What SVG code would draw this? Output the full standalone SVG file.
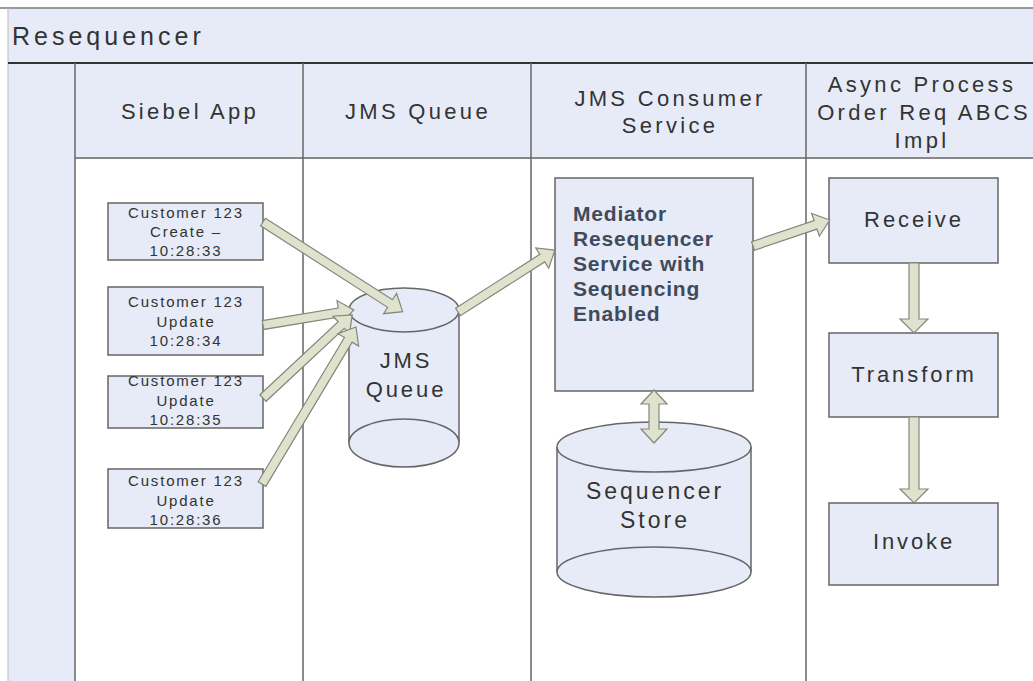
<svg xmlns="http://www.w3.org/2000/svg" width="1033" height="681" viewBox="0 0 1033 681">
<style>
.t{font-family:"Liberation Sans",Arial,sans-serif;fill:#333;text-anchor:middle}
.hd{font-size:22px;letter-spacing:3.3px}
.cu{font-size:15px;letter-spacing:1.8px}
.bx{font-size:22px;letter-spacing:2.9px}
.md{font-family:"Liberation Sans",Arial,sans-serif;font-weight:bold;font-size:21px;letter-spacing:0.8px;fill:#3f4a5c}
.shape{fill:#e6ebf7;stroke:#666;stroke-width:1.5}
.arr{fill:#dfe2cc;stroke:#85877c;stroke-width:1.2;stroke-linejoin:miter}
.lane{stroke:#666;stroke-width:1.5}
</style>
<rect x="0" y="0" width="1033" height="681" fill="#fff"/>
<g id="pool">
<rect x="8" y="8" width="1030" height="55" fill="#e6ebf7"/>
<rect x="8" y="63" width="67" height="620" fill="#e6ebf7"/>
<rect x="75" y="63" width="960" height="95" fill="#e6ebf7"/>
<line x1="0" y1="8" x2="1033" y2="8" stroke="#999" stroke-width="2"/>
<line x1="8" y1="8" x2="8" y2="681" stroke="#bbb" stroke-width="1"/>
<line x1="8" y1="63" x2="1033" y2="63" stroke="#333" stroke-width="2"/>
<line x1="75" y1="158" x2="1033" y2="158" stroke="#888" stroke-width="2"/>
<line class="lane" x1="75" y1="63" x2="75" y2="681"/>
<line class="lane" x1="303" y1="63" x2="303" y2="681"/>
<line class="lane" x1="531" y1="63" x2="531" y2="681"/>
<line class="lane" x1="806" y1="63" x2="806" y2="681"/>
<text x="12" y="45" style="font-family:'Liberation Sans',Arial,sans-serif;font-size:25px;letter-spacing:4px;fill:#333">Resequencer</text>
<text class="t hd" x="190" y="119">Siebel App</text>
<text class="t hd" x="418" y="119">JMS Queue</text>
<text class="t hd" x="670" y="106">JMS Consumer</text>
<text class="t hd" x="670" y="133">Service</text>
<text class="t hd" x="922" y="92">Async Process</text>
<text class="t hd" x="924" y="120">Order Req ABCS</text>
<text class="t hd" x="922" y="148">Impl</text>
</g>
<g id="c1">
<rect class="shape" x="108" y="203" width="155" height="57"/>
<text class="t cu" x="186" y="218">Customer 123</text>
<text class="t cu" x="186" y="237">Create –</text>
<text class="t cu" x="186" y="256">10:28:33</text>
</g>
<g id="c2">
<rect class="shape" x="108" y="287" width="155" height="68"/>
<text class="t cu" x="186" y="307">Customer 123</text>
<text class="t cu" x="186" y="327">Update</text>
<text class="t cu" x="186" y="346">10:28:34</text>
</g>
<g id="c3">
<rect class="shape" x="108" y="376" width="155" height="52"/>
<text class="t cu" x="186" y="386">Customer 123</text>
<text class="t cu" x="186" y="406">Update</text>
<text class="t cu" x="186" y="425">10:28:35</text>
</g>
<g id="c4">
<rect class="shape" x="108" y="469" width="155" height="59"/>
<text class="t cu" x="186" y="486">Customer 123</text>
<text class="t cu" x="186" y="506">Update</text>
<text class="t cu" x="186" y="525">10:28:36</text>
</g>
<g id="jmsq">
<rect x="349" y="310" width="110" height="133" fill="#e6ebf7"/>
<line x1="349" y1="310" x2="349" y2="443" stroke="#666" stroke-width="1.5"/>
<line x1="459" y1="310" x2="459" y2="443" stroke="#666" stroke-width="1.5"/>
<ellipse class="shape" cx="404" cy="443" rx="55" ry="24"/>
<ellipse class="shape" cx="404" cy="310" rx="55" ry="22"/>
<text class="t bx" x="406" y="368">JMS</text>
<text class="t bx" x="406" y="397">Queue</text>
</g>
<g id="mediator">
<rect class="shape" x="555" y="178" width="198" height="213"/>
<text class="md" x="573" y="221">Mediator</text>
<text class="md" x="573" y="246">Resequencer</text>
<text class="md" x="573" y="271">Service with</text>
<text class="md" x="573" y="296">Sequencing</text>
<text class="md" x="573" y="321">Enabled</text>
</g>
<g id="store">
<rect x="557" y="447" width="194" height="125" fill="#e6ebf7"/>
<line x1="557" y1="447" x2="557" y2="572" stroke="#666" stroke-width="1.5"/>
<line x1="751" y1="447" x2="751" y2="572" stroke="#666" stroke-width="1.5"/>
<ellipse class="shape" cx="654" cy="572" rx="97" ry="25"/>
<ellipse class="shape" cx="654" cy="447" rx="97" ry="25"/>
<text class="t bx" x="655" y="499" style="font-size:23px;letter-spacing:3px">Sequencer</text>
<text class="t bx" x="655" y="528" style="font-size:23px;letter-spacing:3px">Store</text>
</g>
<g id="receive">
<rect class="shape" x="829" y="178" width="169" height="85"/>
<text class="t bx" x="914" y="227">Receive</text>
</g>
<g id="transform">
<rect class="shape" x="829" y="333" width="169" height="84"/>
<text class="t bx" x="914" y="382">Transform</text>
</g>
<g id="invoke">
<rect class="shape" x="829" y="503" width="169" height="82"/>
<text class="t bx" x="914" y="549">Invoke</text>
</g>
<g id="connectors">
<polygon class="arr" transform="translate(263,222) rotate(32.7)" points="0,-4.5 151,-4.5 151,-12 166,0 151,12 151,4.5 0,4.5"/>
<polygon class="arr" transform="translate(263,325) rotate(-9.4)" points="0,-4.5 77,-4.5 77,-12 92,0 77,12 77,4.5 0,4.5"/>
<polygon class="arr" transform="translate(263,398) rotate(-43)" points="0,-4.5 107,-4.5 107,-12 122,0 107,12 107,4.5 0,4.5"/>
<polygon class="arr" transform="translate(262,484) rotate(-59.1)" points="0,-4.5 168,-4.5 168,-12 183,0 168,12 168,4.5 0,4.5"/>
<polygon class="arr" transform="translate(458,312) rotate(-32.6)" points="0,-4.5 100,-4.5 100,-12 115,0 100,12 100,4.5 0,4.5"/>
<polygon class="arr" transform="translate(753,246) rotate(-18.7)" points="0,-4.5 66,-4.5 66,-12 81,0 66,12 66,4.5 0,4.5"/>
<polygon class="arr" transform="translate(654,390) rotate(90)" points="0,0 14,-13 14,-5 39,-5 39,-13 53,0 39,13 39,5 14,5 14,13"/>
<polygon class="arr" transform="translate(914,263) rotate(90)" points="0,-5 56,-5 56,-14 70,0 56,14 56,5 0,5"/>
<polygon class="arr" transform="translate(914,417) rotate(90)" points="0,-5 72,-5 72,-14 86,0 72,14 72,5 0,5"/>
</g>
</svg>
